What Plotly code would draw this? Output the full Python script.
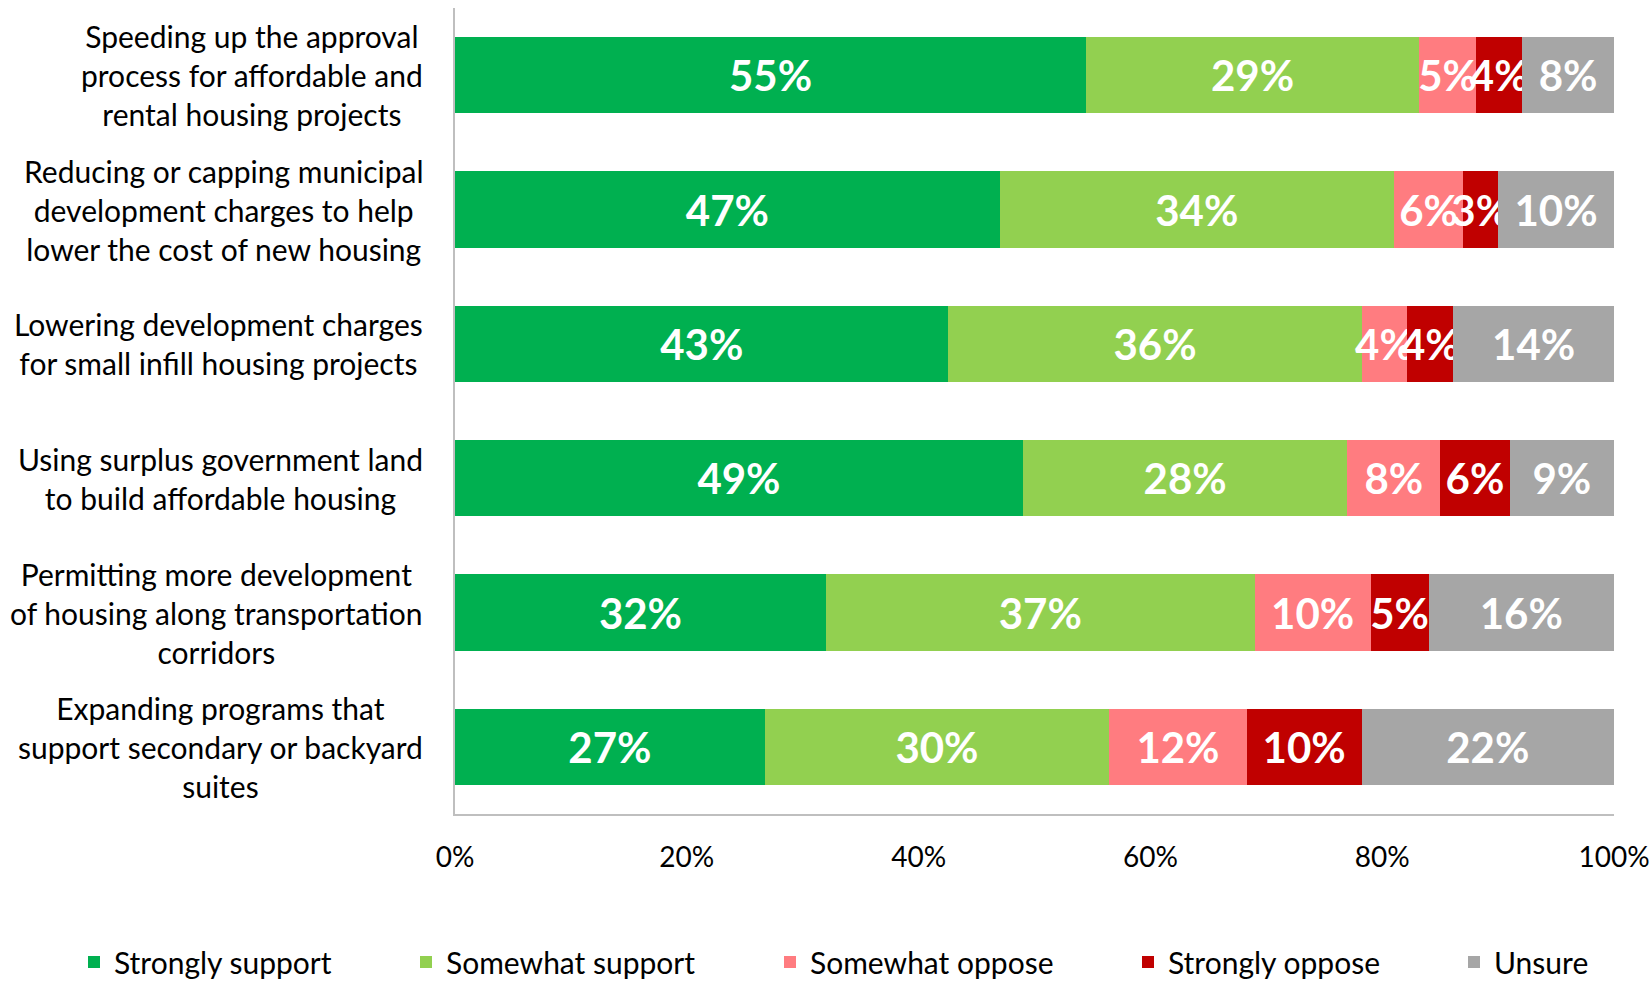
import plotly.graph_objects as go

categories = [
    "Speeding up the approval<br>process for affordable and<br>rental housing projects",
    "Reducing or capping municipal<br>development charges to help<br>lower the cost of new housing",
    "Lowering development charges<br>for small infill housing projects",
    "Using surplus government land<br>to build affordable housing",
    "Permitting more development<br>of housing along transportation<br>corridors",
    "Expanding programs that<br>support secondary or backyard<br>suites",
]

series_names = ["Strongly support", "Somewhat support", "Somewhat oppose", "Strongly oppose", "Unsure"]
strongly_support = [55, 47, 43, 49, 32, 27]
somewhat_support = [29, 34, 36, 28, 37, 30]
somewhat_oppose = [5, 6, 4, 8, 10, 12]
strongly_oppose = [4, 3, 4, 6, 5, 10]
unsure = [8, 10, 14, 9, 16, 22]

series_values = [strongly_support, somewhat_support, somewhat_oppose, strongly_oppose, unsure]
colors = ["#00B050", "#92D050", "#FF7C80", "#C00000", "#A6A6A6"]

tick_vals = [0, 20, 40, 60, 80, 100]
tick_text = ["0%", "20%", "40%", "60%", "80%", "100%"]

FONT = "Lato"
W, H = 1652, 987
legend_x_px = [74, 406, 770, 1128, 1454]
legend_y_px = 962

fig = go.Figure()
legend_layouts = {}
for i, (name, vals, col) in enumerate(zip(series_names, series_values, colors)):
    lg = "legend" if i == 0 else f"legend{i + 1}"
    fig.add_trace(go.Bar(
        y=categories,
        x=vals,
        name=name,
        orientation="h",
        legend=lg,
        marker=dict(color=col, line=dict(width=0)),
        text=[f"{v}%" for v in vals],
        textposition="inside",
        insidetextanchor="middle",
        textangle=0,
        textfont=dict(family=FONT, size=42, color="white", weight="bold"),
        hoverinfo="skip",
    ))
    legend_layouts[lg] = dict(
        orientation="h", xref="container", yref="container",
        x=legend_x_px[i] / W, y=1 - legend_y_px / H,
        xanchor="left", yanchor="middle",
        font=dict(family=FONT, size=30, color="black"),
        bgcolor="rgba(0,0,0,0)",
    )

for c in categories:
    fig.add_annotation(
        x=0, xref="paper", y=c, yref="y",
        xanchor="right", yanchor="middle", xshift=-30,
        text=c, showarrow=False, align="center",
        font=dict(family=FONT, size=30, color="black"),
    )

fig.update_layout(
    width=W, height=H,
    barmode="stack", barnorm="percent",
    bargap=0.434,
    plot_bgcolor="white", paper_bgcolor="white",
    margin=dict(l=455, r=38, t=8, b=173, autoexpand=False),
    uniformtext=dict(mode="show", minsize=42),
    font=dict(family=FONT, color="black"),
    showlegend=True,
    **legend_layouts,
)
fig.update_yaxes(
    autorange="reversed", showticklabels=False, ticks="",
    showline=True, linecolor="#BFBFBF", linewidth=2, showgrid=False,
    automargin=False,
)
fig.update_xaxes(
    range=[0, 100], tickvals=tick_vals, ticktext=tick_text,
    showline=True, linecolor="#BFBFBF", linewidth=2, showgrid=False,
    ticks="", ticklabelstandoff=17,
    tickfont=dict(family=FONT, size=28, color="black"),
    zeroline=False, automargin=False,
)

fig.write_html(
    "out.html",
    config={"displayModeBar": False},
    post_script="document.body.style.margin='0';",
)
